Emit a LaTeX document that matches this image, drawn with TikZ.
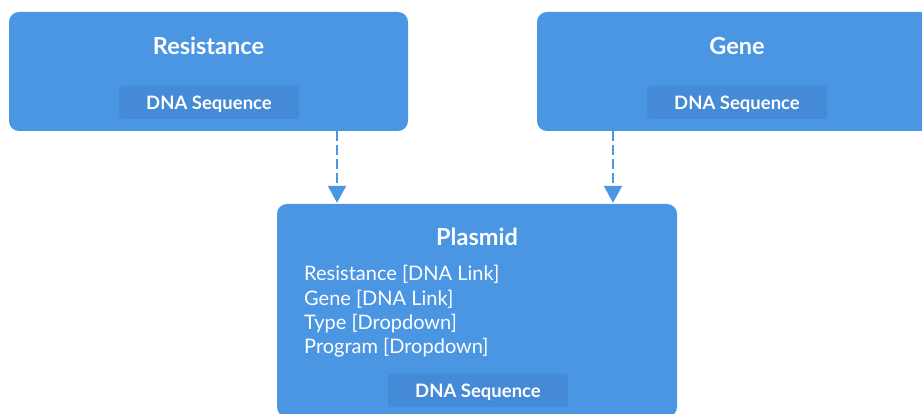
\documentclass[tikz,border=0pt]{standalone}
\usepackage{fontspec}
\setmainfont{Lato}
\usetikzlibrary{arrows.meta,calc}
\definecolor{boxblue}{HTML}{4A96E2}
\definecolor{fieldblue}{HTML}{448AD6}
\tikzset{
  entity/.style={draw=none, fill=boxblue, rounded corners=10pt, inner sep=0pt},
  field/.style={fill=fieldblue, rounded corners=3pt, minimum width=180pt, minimum height=33pt,
    inner sep=0pt, text height=13.6pt, text depth=0pt, text=white,
    font=\fontsize{18.5}{22}\selectfont\bfseries},
  heading/.style={text=white, font=\fontsize{23.5}{28}\selectfont\bfseries, inner sep=0pt, anchor=base},
  attr/.style={text=white, font=\fontsize{20}{24.5}\selectfont, inner sep=0pt, anchor=base west},
  link/.style={boxblue, line width=2.2pt, dash pattern=on 10pt off 4pt,
    -{Triangle[width=18pt,length=17pt]}, shorten >=1pt}
}
\begin{document}
\begin{tikzpicture}[x=1pt,y=-1pt]
  \useasboundingbox (0,0) rectangle (922,414);
  \clip (0,0) rectangle (922,414);
  % entity boxes
  \node[entity, minimum width=399pt, minimum height=119pt] (res) at (208.5,71.5) {};
  \node[entity, minimum width=400pt, minimum height=119pt] (gene) at (737,71.5) {};
  \node[entity, minimum width=400pt, minimum height=213pt] (pla) at (477,310.5) {};
  % titles
  \node[heading] (resT) at (208.5,55) {Resistance};
  \node[heading] (geneT) at (737,55) {Gene};
  \node[heading] (plaT) at (477,245.7) {Plasmid};
  % sequence fields
  \node[field] (resF) at (209,102.5) {DNA Sequence};
  \node[field] (geneF) at (737,102.5) {DNA Sequence};
  \node[field] (plaF) at (478,390.5) {DNA Sequence};
  % plasmid attributes
  \node[attr] (plaA1) at (304,280.7) {Resistance [DNA Link]};
  \node[attr] (plaA2) at (304,305.1) {Gene [DNA Link]};
  \node[attr] (plaA3) at (304,329.5) {Type [Dropdown]};
  \node[attr] (plaA4) at (304,353.9) {Program [Dropdown]};
  % links
  \coordinate (x1) at (337,0);
  \coordinate (x2) at (613,0);
  \draw[link] (x1 |- res.south) -- (x1 |- pla.north);
  \draw[link] (x2 |- gene.south) -- (x2 |- pla.north);
\end{tikzpicture}
\end{document}
